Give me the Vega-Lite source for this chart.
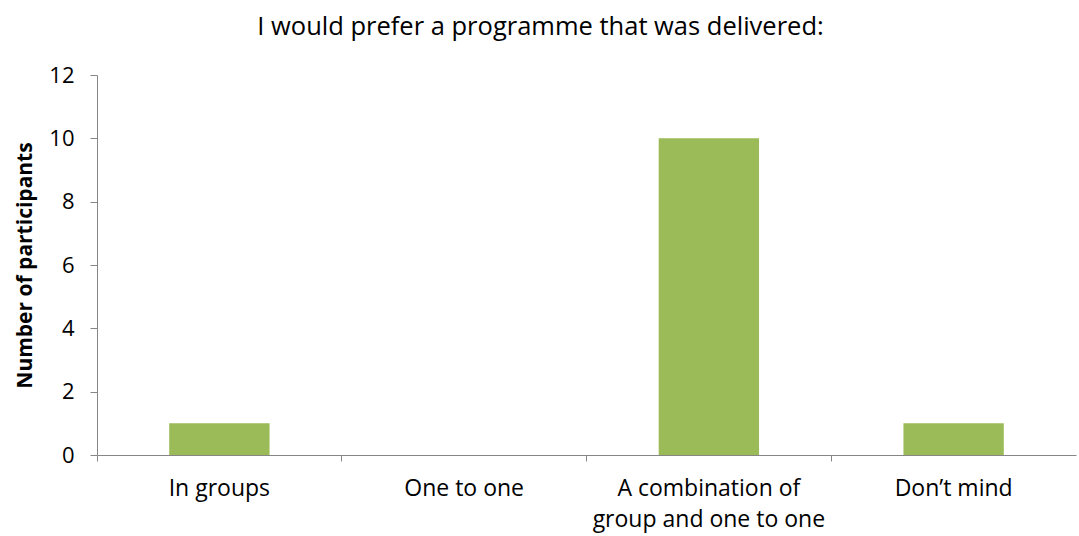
{
  "$schema": "https://vega.github.io/schema/vega-lite/v6.json",
  "autosize": "none",
  "width": 979,
  "height": 380,
  "padding": {"left": 97, "top": 75, "right": 3, "bottom": 81},
  "background": "white",
  "config": {"view": {"stroke": null}, "font": "Open Sans"},
  "title": {
    "text": "I would prefer a programme that was delivered:",
    "font": "Open Sans",
    "fontSize": 25.5,
    "fontWeight": "normal",
    "color": "#000000",
    "anchor": "middle",
    "dx": -46,
    "offset": 24
  },
  "data": {
    "values": [
      {"option": "In groups", "participants": 1},
      {"option": "One to one", "participants": 0},
      {"option": "A combination of group and one to one", "participants": 10},
      {"option": "Don’t mind", "participants": 1}
    ]
  },
  "mark": {"type": "bar", "color": "#9BBB59", "width": {"band": 0.41}},
  "encoding": {
    "x": {
      "field": "option",
      "type": "nominal",
      "sort": null,
      "scale": {"paddingInner": 0, "paddingOuter": 0},
      "axis": {
        "title": null,
        "labelAngle": 0,
        "bandPosition": 0,
        "domainColor": "#868686",
        "tickColor": "#868686",
        "tickSize": 6,
        "labelPadding": 16,
        "labelFont": "Open Sans",
        "labelFontSize": 23,
        "labelColor": "#000000",
        "labelLimit": 400,
        "labelLineHeight": 31,
        "labelExpr": "datum.value == 'A combination of group and one to one' ? ['A combination of', 'group and one to one'] : datum.value"
      }
    },
    "y": {
      "field": "participants",
      "type": "quantitative",
      "scale": {"domain": [0, 12]},
      "axis": {
        "title": "Number of participants",
        "titleFont": "Open Sans",
        "titleFontSize": 21,
        "titleFontWeight": "bold",
        "titleColor": "#000000",
        "titlePadding": 13,
        "values": [0, 2, 4, 6, 8, 10, 12],
        "grid": false,
        "domainColor": "#868686",
        "tickColor": "#868686",
        "tickSize": 7,
        "labelPadding": 16,
        "labelFont": "Open Sans",
        "labelFontSize": 22,
        "labelColor": "#000000"
      }
    }
  }
}
